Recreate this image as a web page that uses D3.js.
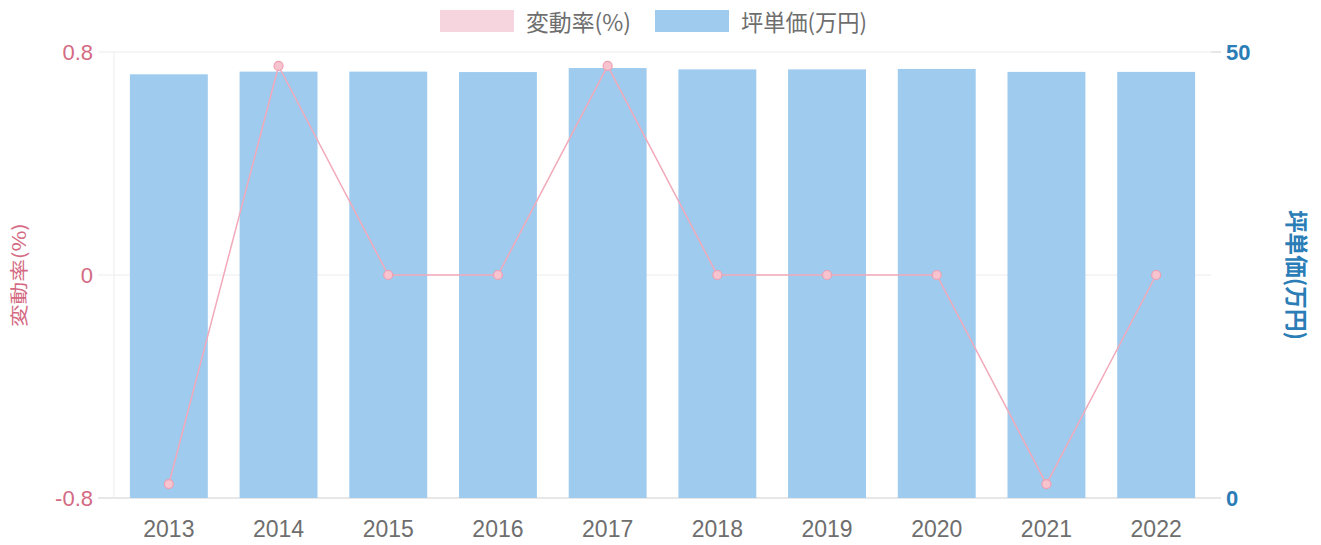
<!DOCTYPE html>
<html>
<head>
<meta charset="utf-8">
<script src="https://cdn.jsdelivr.net/npm/d3@7"></script>
<style>
  body { margin: 0; background: #fff; }
  svg { display: block; font-family: "Noto Sans CJK JP", "Noto Sans", sans-serif; }
</style>
</head>
<body>
<div id="chart"></div>
<script>
// データ
var years = ["2013", "2014", "2015", "2016", "2017", "2018", "2019", "2020", "2021", "2022"];
var rate = [-0.75, 0.75, 0, 0, 0.75, 0, 0, 0, -0.75, 0];          // 変動率(%)
var price = [47.5, 47.8, 47.8, 47.75, 48.2, 48.05, 48.05, 48.1, 47.77, 47.77]; // 坪単価(万円)
var rateTicks = [-0.8, 0, 0.8];
var priceTicks = [0, 50];

var W = 1321, H = 545;
var m = { left: 114, right: 110, top: 52, bottom: 47 };
var pink = "#d46a83", blue = "#2a7db6";
var latin = "'Liberation Sans', Arial, sans-serif";

var svg = d3.select("#chart").append("svg").attr("width", W).attr("height", H);

var x = d3.scaleBand().domain(years)
    .range([m.left, W - m.right])
    .paddingInner(0.29).paddingOuter(0.145);
var yL = d3.scaleLinear().domain([-0.8, 0.8]).range([H - m.bottom, m.top]);
var yR = d3.scaleLinear().domain([0, 50]).range([H - m.bottom, m.top]);

// グリッド
svg.append("g").selectAll("line").data(rateTicks).enter().append("line")
    .attr("x1", m.left - 16).attr("x2", W - m.right)
    .attr("y1", function (d) { return yL(d); }).attr("y2", function (d) { return yL(d); })
    .attr("stroke", function (d) { return d == -0.8 ? "#cfcfcf" : "#ececec"; })
    .attr("stroke-width", 1);
svg.append("line")
    .attr("x1", m.left).attr("x2", m.left).attr("y1", m.top).attr("y2", H - m.bottom)
    .attr("stroke", "#ececec");
svg.append("g").selectAll("line").data(priceTicks).enter().append("line")
    .attr("x1", W - m.right).attr("x2", W - m.right + 10)
    .attr("y1", function (d) { return yR(d); }).attr("y2", function (d) { return yR(d); })
    .attr("stroke", "#cfcfcf");

// 棒
svg.append("g").selectAll("rect").data(price).enter().append("rect")
    .attr("x", function (d, i) { return x(years[i]); })
    .attr("width", x.bandwidth())
    .attr("y", function (d) { return yR(d); })
    .attr("height", function (d) { return yR(0) - yR(d); })
    .attr("fill", "#9ecbee");

// 折れ線
var line = d3.line()
    .x(function (d, i) { return x(years[i]) + x.bandwidth() / 2; })
    .y(function (d) { return yL(d); });
svg.append("path").datum(rate)
    .attr("d", line)
    .attr("fill", "none")
    .attr("stroke", "#f2a9b9")
    .attr("stroke-width", 1.5);
svg.append("g").selectAll("circle").data(rate).enter().append("circle")
    .attr("cx", function (d, i) { return x(years[i]) + x.bandwidth() / 2; })
    .attr("cy", function (d) { return yL(d); })
    .attr("r", 4.5)
    .attr("fill", "#f6c3cf")
    .attr("stroke", "#ee9fb2")
    .attr("stroke-width", 1.2);

// 軸ラベル
var axL = d3.axisLeft(yL).tickValues(rateTicks).tickSize(0).tickPadding(21)
    .tickFormat(function (d) { return d == 0 ? "0" : d3.format(".1f")(d).replace("−", "-"); });
var gL = svg.append("g").attr("transform", "translate(" + m.left + ",0)").call(axL);
gL.select(".domain").remove();
gL.selectAll("text").attr("fill", pink).style("font-size", "22px").style("font-family", latin);

var axR = d3.axisRight(yR).tickValues(priceTicks).tickSize(0).tickPadding(15);
var gR = svg.append("g").attr("transform", "translate(" + (W - m.right) + ",0)").call(axR);
gR.select(".domain").remove();
gR.selectAll("text").attr("fill", blue).style("font-size", "22px").style("font-weight", "bold")
    .style("font-family", latin);

var axB = d3.axisBottom(x).tickSize(0).tickPadding(23);
var gB = svg.append("g").attr("transform", "translate(0," + (H - m.bottom) + ")").call(axB);
gB.select(".domain").remove();
gB.selectAll("text").attr("fill", "#6e6e6e").style("font-size", "23px").style("font-family", latin);

// 軸タイトル
svg.append("text")
    .attr("transform", "translate(18," + yL(0) + ") rotate(-90)")
    .attr("text-anchor", "middle").attr("dominant-baseline", "central")
    .attr("fill", pink).style("font-size", "18px")
    .attr("textLength", 104).attr("lengthAdjust", "spacingAndGlyphs")
    .text("変動率(%)");
svg.append("text")
    .attr("transform", "translate(1298," + yL(0) + ") rotate(90)")
    .attr("text-anchor", "middle").attr("dominant-baseline", "central")
    .attr("fill", blue).style("font-size", "23px").style("font-weight", "bold")
    .attr("textLength", 130).attr("lengthAdjust", "spacingAndGlyphs")
    .text("坪単価(万円)");

// 凡例
var legend = [
    { name: "変動率(%)", color: "#f7d5de", x: 440, len: 105 },
    { name: "坪単価(万円)", color: "#9ecbee", x: 655, len: 126 }
];
var lg = svg.append("g").selectAll("g").data(legend).enter().append("g")
    .attr("transform", function (d) { return "translate(" + d.x + ",10)"; });
lg.append("rect").attr("width", 74).attr("height", 22).attr("fill", function (d) { return d.color; });
lg.append("text").attr("x", 86).attr("y", 11).attr("dominant-baseline", "central")
    .attr("fill", "#6e6e6e").style("font-size", "23px")
    .attr("textLength", function (d) { return d.len; }).attr("lengthAdjust", "spacingAndGlyphs")
    .text(function (d) { return d.name; });
</script>
</body>
</html>
